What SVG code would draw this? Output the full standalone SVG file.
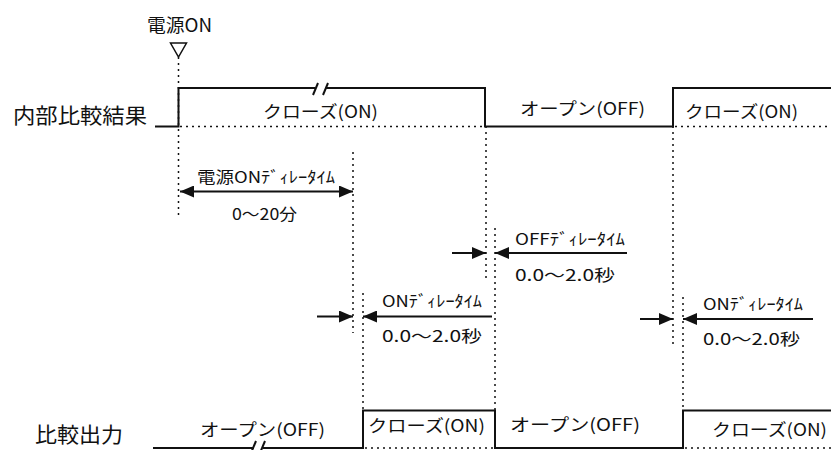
<svg xmlns="http://www.w3.org/2000/svg" width="831" height="450" viewBox="0 0 831 450">
<style>
.t{font-family:"Noto Sans CJK JP","Noto Sans CJK SC",sans-serif;fill:#111}
.lbl{font-size:21px}
.st{font-size:17px}
.dl{font-size:16px}
.sig{fill:none;stroke:#111;stroke-width:2}
.dot{fill:none;stroke:#111;stroke-width:1.5;stroke-dasharray:2 4}
.ar{fill:none;stroke:#111;stroke-width:2}
</style>
<defs>
<marker id="ah" markerUnits="userSpaceOnUse" markerWidth="14" markerHeight="12" refX="14" refY="6" orient="auto">
<path d="M0,0 L14,6 L0,12 Z" fill="#111"/>
</marker>
</defs>
<rect width="831" height="450" fill="#fff"/>

<g id="connectors">
<line class="dot" x1="178.5" y1="57" x2="178.5" y2="218"/>
<line class="dot" x1="353" y1="152" x2="353" y2="333"/>
<line class="dot" x1="363" y1="293" x2="363" y2="410"/>
<line class="dot" x1="486" y1="126" x2="486" y2="278"/>
<line class="dot" x1="495" y1="228" x2="495" y2="410"/>
<line class="dot" x1="673" y1="126" x2="673" y2="345"/>
<line class="dot" x1="683" y1="297" x2="683" y2="410"/>
<line class="dot" x1="180" y1="126.5" x2="485" y2="126.5" stroke-dasharray="2 5"/>
<line class="dot" x1="675" y1="126.5" x2="831" y2="126.5" stroke-dasharray="2 5"/>
<line class="dot" x1="365" y1="448" x2="495" y2="448" stroke-dasharray="2 5"/>
<line class="dot" x1="685" y1="448" x2="831" y2="448" stroke-dasharray="2 5"/>
</g>

<g id="power-on">
<text class="t" x="147" y="32" font-size="18" textLength="65" lengthAdjust="spacingAndGlyphs">電源ON</text>
<polygon points="170.5,43 186.5,43 178.5,57" fill="#fff" stroke="#111" stroke-width="1.5"/>
</g>

<g id="label-internal">
<text class="t lbl" x="13" y="123" textLength="134" lengthAdjust="spacingAndGlyphs">内部比較結果</text>
</g>
<g id="label-output">
<text class="t lbl" x="35" y="442" textLength="88" lengthAdjust="spacingAndGlyphs">比較出力</text>
</g>

<g id="signal-internal">
<polyline class="sig" points="155,126.5 178.5,126.5 178.5,88 315,88"/>
<line class="sig" x1="313" y1="95" x2="318" y2="83"/>
<line class="sig" x1="323" y1="95" x2="328" y2="83"/>
<polyline class="sig" points="326,88 485,88 485,126.5 673,126.5 673,88 831,88"/>
<text class="t st" x="263" y="118" textLength="115" lengthAdjust="spacingAndGlyphs">クローズ(ON)</text>
<text class="t st" x="520" y="115" textLength="125" lengthAdjust="spacingAndGlyphs">オープン(OFF)</text>
<text class="t st" x="685" y="118" textLength="113" lengthAdjust="spacingAndGlyphs">クローズ(ON)</text>
</g>

<g id="signal-output">
<line class="sig" x1="153" y1="448" x2="254" y2="448"/>
<line class="sig" x1="251" y1="453" x2="256" y2="441"/>
<line class="sig" x1="260" y1="453" x2="265" y2="441"/>
<polyline class="sig" points="263,448 363,448 363,410.5 495,410.5 495,448 683,448 683,410.5 831,410.5"/>
<text class="t st" x="200" y="436" textLength="125" lengthAdjust="spacingAndGlyphs">オープン(OFF)</text>
<text class="t st" x="368" y="432" textLength="117" lengthAdjust="spacingAndGlyphs">クローズ(ON)</text>
<text class="t st" x="510" y="431" textLength="130" lengthAdjust="spacingAndGlyphs">オープン(OFF)</text>
<text class="t st" x="712" y="436" textLength="115" lengthAdjust="spacingAndGlyphs">クローズ(ON)</text>
</g>

<g id="delay-power">
<line class="ar" x1="266" y1="191.5" x2="180" y2="191.5" marker-end="url(#ah)"/>
<line class="ar" x1="266" y1="191.5" x2="353" y2="191.5" marker-end="url(#ah)"/>
<text class="t dl" x="197" y="183" textLength="138" lengthAdjust="spacingAndGlyphs">電源ONﾃﾞｨﾚｰﾀｲﾑ</text>
<text class="t dl" x="232" y="220" textLength="65" lengthAdjust="spacingAndGlyphs">0～20分</text>
</g>

<g id="delay-off">
<line class="ar" x1="452" y1="253" x2="486" y2="253" marker-end="url(#ah)"/>
<line class="ar" x1="627" y1="253" x2="495" y2="253" marker-end="url(#ah)"/>
<text class="t dl" x="515" y="245" textLength="110" lengthAdjust="spacingAndGlyphs">OFFﾃﾞｨﾚｰﾀｲﾑ</text>
<text class="t dl" x="515" y="281" textLength="100" lengthAdjust="spacingAndGlyphs">0.0～2.0秒</text>
</g>

<g id="delay-on-1">
<line class="ar" x1="317" y1="316.5" x2="353" y2="316.5" marker-end="url(#ah)"/>
<line class="ar" x1="492" y1="316.5" x2="363" y2="316.5" marker-end="url(#ah)"/>
<text class="t dl" x="382" y="307" textLength="100" lengthAdjust="spacingAndGlyphs">ONﾃﾞｨﾚｰﾀｲﾑ</text>
<text class="t dl" x="382" y="342" textLength="100" lengthAdjust="spacingAndGlyphs">0.0～2.0秒</text>
</g>

<g id="delay-on-2">
<line class="ar" x1="640" y1="319" x2="673" y2="319" marker-end="url(#ah)"/>
<line class="ar" x1="813" y1="319" x2="683" y2="319" marker-end="url(#ah)"/>
<text class="t dl" x="703" y="310" textLength="100" lengthAdjust="spacingAndGlyphs">ONﾃﾞｨﾚｰﾀｲﾑ</text>
<text class="t dl" x="703" y="345" textLength="97" lengthAdjust="spacingAndGlyphs">0.0～2.0秒</text>
</g>
</svg>
